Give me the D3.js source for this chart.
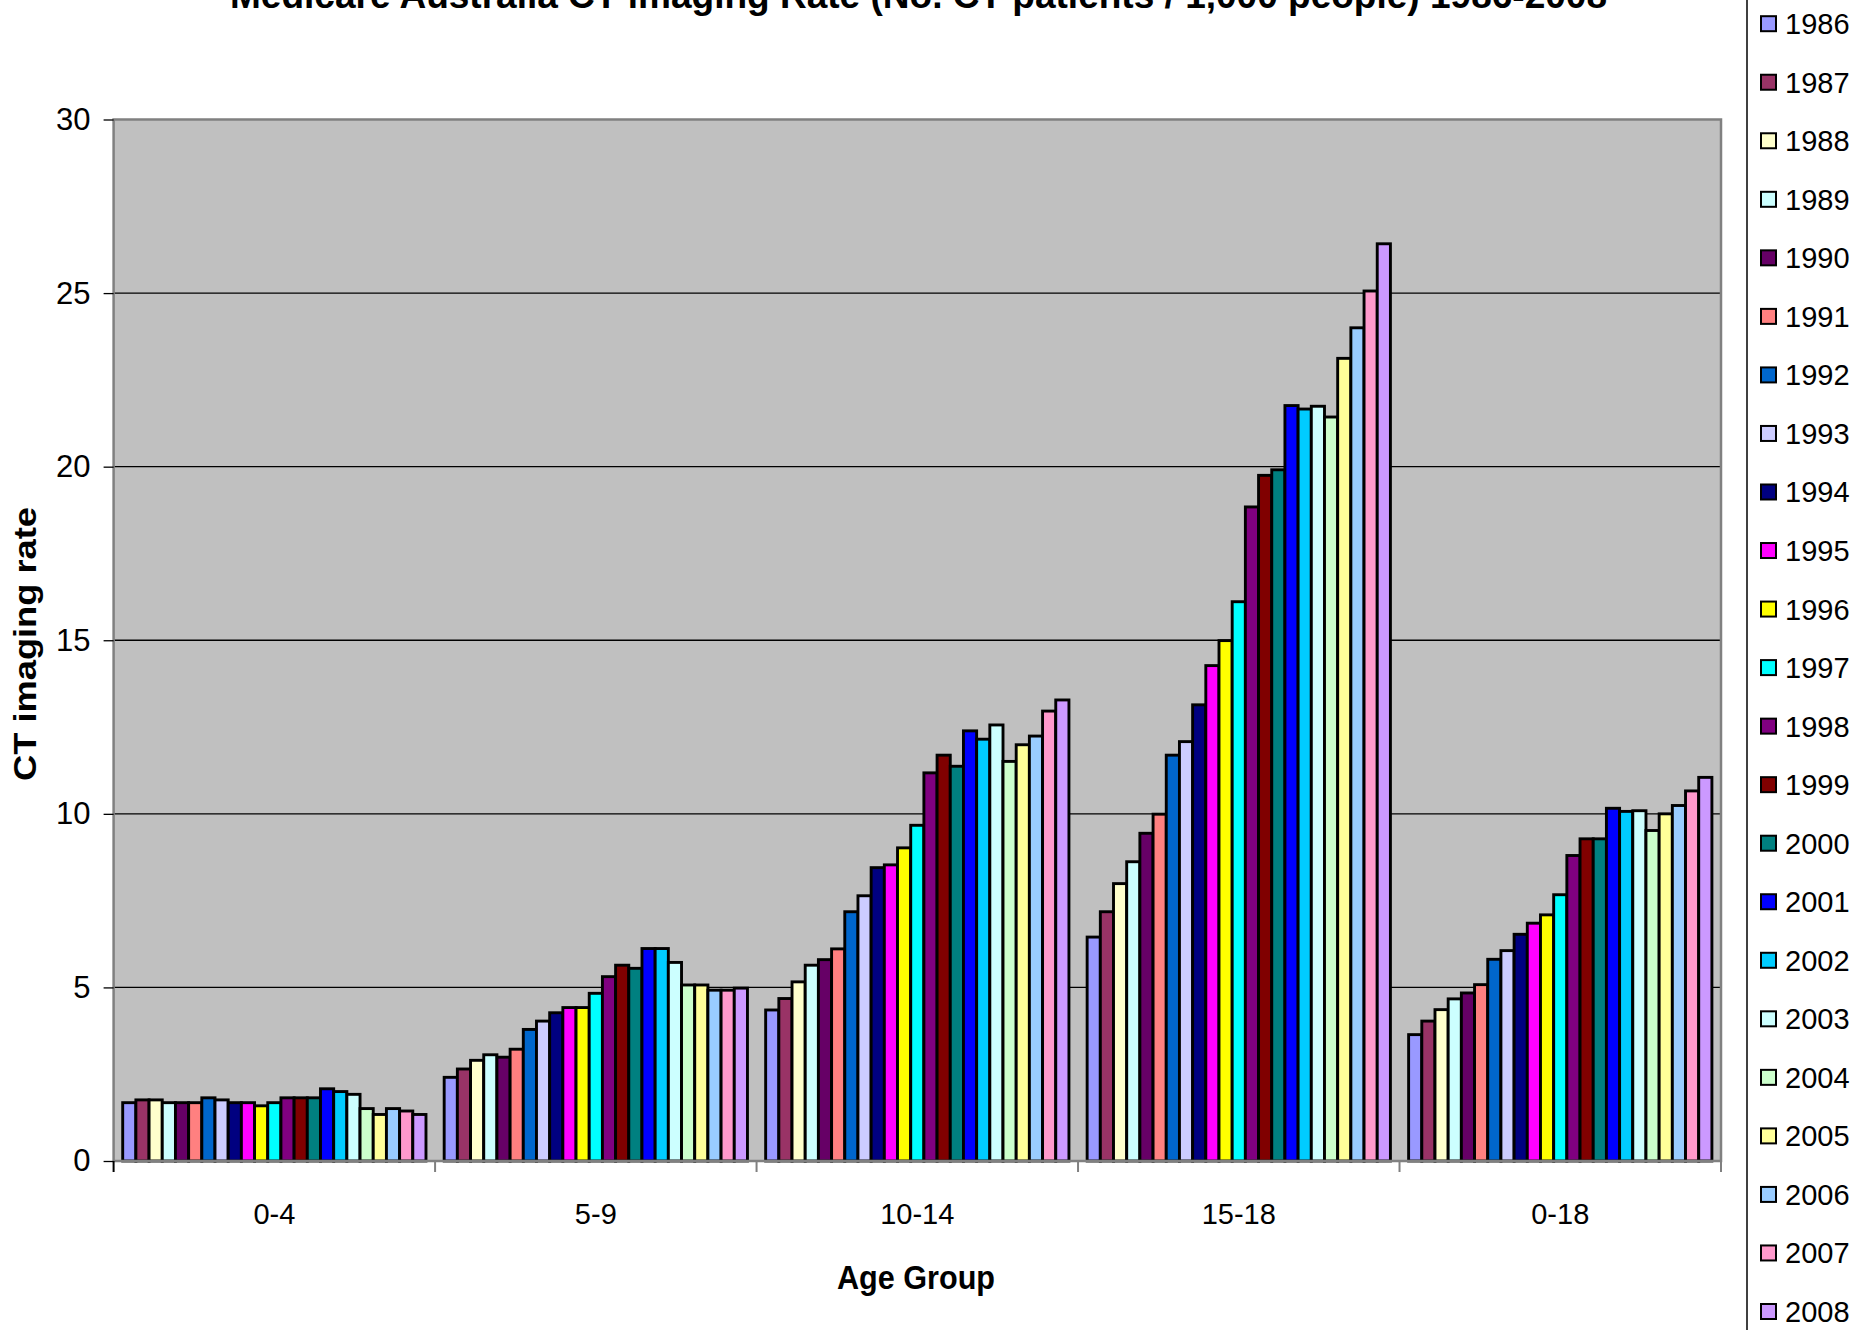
<!DOCTYPE html>
<html>
<head>
<meta charset="utf-8">
<script src="https://cdn.jsdelivr.net/npm/d3@7"></script>
<style>
    body { margin: 0; background: #ffffff; }
    svg { display: block; }
</style>
</head>
<body>
<div id="chart"></div>
<script>

const age_groups = ["0-4", "5-9", "10-14", "15-18", "0-18"]

const years = ["1986", "1987", "1988", "1989", "1990", "1991", "1992", "1993", "1994", "1995", "1996", "1997",
    "1998", "1999", "2000", "2001", "2002", "2003", "2004", "2005", "2006", "2007", "2008"]

const year_colors = ["#9999FF", "#993366", "#FFFFCC", "#CCFFFF", "#660066", "#FF8080", "#0066CC", "#CCCCFF",
    "#000080", "#FF00FF", "#FFFF00", "#00FFFF", "#800080", "#800000", "#008080", "#0000FF", "#00CCFF",
    "#CCFFFF", "#CCFFCC", "#FFFF99", "#99CCFF", "#FF99CC", "#CC99FF"]

// rates per age group, one value per year 1986..2008
const rate_0_4 = [1.68, 1.76, 1.76, 1.68, 1.68, 1.68, 1.82, 1.76, 1.68, 1.68, 1.59, 1.68,
    1.82, 1.82, 1.82, 2.08, 2.0, 1.92, 1.51, 1.34, 1.51, 1.44, 1.34]
const rate_5_9 = [2.41, 2.65, 2.9, 3.06, 2.99, 3.22, 3.79, 4.03, 4.27, 4.42, 4.42, 4.83,
    5.31, 5.64, 5.55, 6.12, 6.12, 5.72, 5.07, 5.07, 4.92, 4.92, 4.98]
const rate_10_14 = [4.35, 4.68, 5.16, 5.64, 5.8, 6.11, 7.18, 7.64, 8.45, 8.53, 9.02, 9.67,
    11.18, 11.69, 11.37, 12.39, 12.15, 12.56, 11.51, 11.99, 12.24, 12.96, 13.28]
const rate_15_18 = [6.45, 7.18, 7.99, 8.62, 9.44, 9.99, 11.69, 12.08, 13.14, 14.27, 14.99, 16.11,
    18.84, 19.75, 19.91, 21.76, 21.66, 21.74, 21.43, 23.12, 24.0, 25.06, 26.42]
const rate_0_18 = [3.64, 4.03, 4.36, 4.67, 4.84, 5.08, 5.81, 6.06, 6.53, 6.85, 7.09, 7.67,
    8.8, 9.28, 9.28, 10.16, 10.07, 10.09, 9.52, 10.0, 10.24, 10.66, 11.05]

const y_ticks = [0, 5, 10, 15, 20, 25, 30]

const title_text = "Medicare Australia CT imaging Rate (No. CT patients / 1,000 people) 1986-2008"


const width = 1856
const height = 1330
const plot = {left: 113.6, right: 1721, top: 119.5, bottom: 1161}
const font = "'Liberation Sans', Arial, sans-serif"

const group_rates = [rate_0_4, rate_5_9, rate_10_14, rate_15_18, rate_0_18]

var table = []
age_groups.forEach((g, gi) => {
    years.forEach((yr, yi) => {
        table.push({group: g, year: yr, value: group_rates[gi][yi], color: year_colors[yi]})
    })
})

var svg = d3.select("#chart").append("svg")
    .attr("width", width)
    .attr("height", height)
    .attr("viewBox", [0, 0, width, height])

var x0 = d3.scaleBand()
    .domain(age_groups)
    .range([plot.left, plot.right])
    .paddingInner(0)
    .paddingOuter(0)

var x1 = d3.scaleBand()
    .domain(years)
    .range([0, x0.bandwidth()])
    .paddingInner(0)
    .paddingOuter(0.69)

var y = d3.scaleLinear()
    .domain([0, 30])
    .range([plot.bottom, plot.top])

// plot area
svg.append("rect")
    .attr("x", plot.left)
    .attr("y", plot.top)
    .attr("width", plot.right - plot.left)
    .attr("height", plot.bottom - plot.top)
    .attr("fill", "#C0C0C0")

// grid lines
svg.append("g")
    .selectAll("line")
    .data(y_ticks.filter(d => d > 0 && d < 30))
    .join("line")
    .attr("x1", plot.left)
    .attr("x2", plot.right)
    .attr("y1", d => y(d))
    .attr("y2", d => y(d))
    .attr("stroke", "#000000")
    .attr("stroke-width", 1.3)

// bars
svg.append("g")
    .selectAll("rect")
    .data(table)
    .join("rect")
    .attr("x", d => x0(d.group) + x1(d.year))
    .attr("y", d => y(d.value))
    .attr("width", x1.bandwidth())
    .attr("height", d => y(0) - y(d.value))
    .attr("fill", d => d.color)
    .attr("stroke", "#000000")
    .attr("stroke-width", 2.9)

// plot area border
svg.append("rect")
    .attr("x", plot.left)
    .attr("y", plot.top)
    .attr("width", plot.right - plot.left)
    .attr("height", plot.bottom - plot.top)
    .attr("fill", "none")
    .attr("stroke", "#808080")
    .attr("stroke-width", 2.5)

// y axis
var y_axis = svg.append("g")
    .attr("transform", `translate(${plot.left},0)`)
    .call(d3.axisLeft(y).tickValues(y_ticks).tickSize(10).tickSizeOuter(0).tickPadding(13))

y_axis.select(".domain").remove()
y_axis.selectAll(".tick line").attr("stroke", "#000000").attr("stroke-width", 1.3)
y_axis.selectAll(".tick text")
    .style("font-family", font)
    .style("font-size", "31px")
    .attr("fill", "#000000")

// x axis, ticks between groups
var x_axis = svg.append("g")
    .attr("transform", `translate(0,${plot.bottom})`)

x_axis.selectAll("line")
    .data(age_groups.concat(["end"]))
    .join("line")
    .attr("x1", (d, i) => i < age_groups.length ? x0(d) : plot.right)
    .attr("x2", (d, i) => i < age_groups.length ? x0(d) : plot.right)
    .attr("y1", 0)
    .attr("y2", 11)
    .attr("stroke", (d, i) => i == 0 ? "#000000" : "#808080")
    .attr("stroke-width", 2)

x_axis.selectAll("text")
    .data(age_groups)
    .join("text")
    .attr("x", d => x0(d) + x0.bandwidth() / 2)
    .attr("y", 63)
    .attr("text-anchor", "middle")
    .text(d => d)
    .style("font-family", font)
    .style("font-size", "29px")
    .attr("fill", "#000000")

// titles
svg.append("text")
    .attr("x", 230)
    .attr("y", 8)
    .attr("textLength", 1377)
    .attr("lengthAdjust", "spacingAndGlyphs")
    .text(title_text)
    .style("font-family", font)
    .style("font-size", "37px")
    .style("font-weight", "bold")

svg.append("text")
    .attr("x", 837)
    .attr("y", 1289)
    .attr("textLength", 158)
    .attr("lengthAdjust", "spacingAndGlyphs")
    .text("Age Group")
    .style("font-family", font)
    .style("font-size", "33px")
    .style("font-weight", "bold")

svg.append("text")
    .attr("transform", "translate(36,781) rotate(-90)")
    .attr("textLength", 274)
    .attr("lengthAdjust", "spacingAndGlyphs")
    .text("CT imaging rate")
    .style("font-family", font)
    .style("font-size", "31px")
    .style("font-weight", "bold")

// legend
svg.append("line")
    .attr("x1", 1747)
    .attr("x2", 1747)
    .attr("y1", 0)
    .attr("y2", height)
    .attr("stroke", "#000000")
    .attr("stroke-width", 1.5)

var legend_y = d3.scalePoint()
    .domain(years)
    .range([23.7, 1311.5])

var legend = svg.append("g")
    .selectAll("g")
    .data(years)
    .join("g")
    .attr("transform", d => `translate(1761,${legend_y(d)})`)

legend.append("rect")
    .attr("x", 0)
    .attr("y", -7.5)
    .attr("width", 15)
    .attr("height", 15)
    .attr("fill", (d, i) => year_colors[i])
    .attr("stroke", "#000000")
    .attr("stroke-width", 2)

legend.append("text")
    .attr("x", 24)
    .attr("y", 0)
    .attr("dy", "0.36em")
    .text(d => d)
    .style("font-family", font)
    .style("font-size", "29px")

</script>
</body>
</html>
